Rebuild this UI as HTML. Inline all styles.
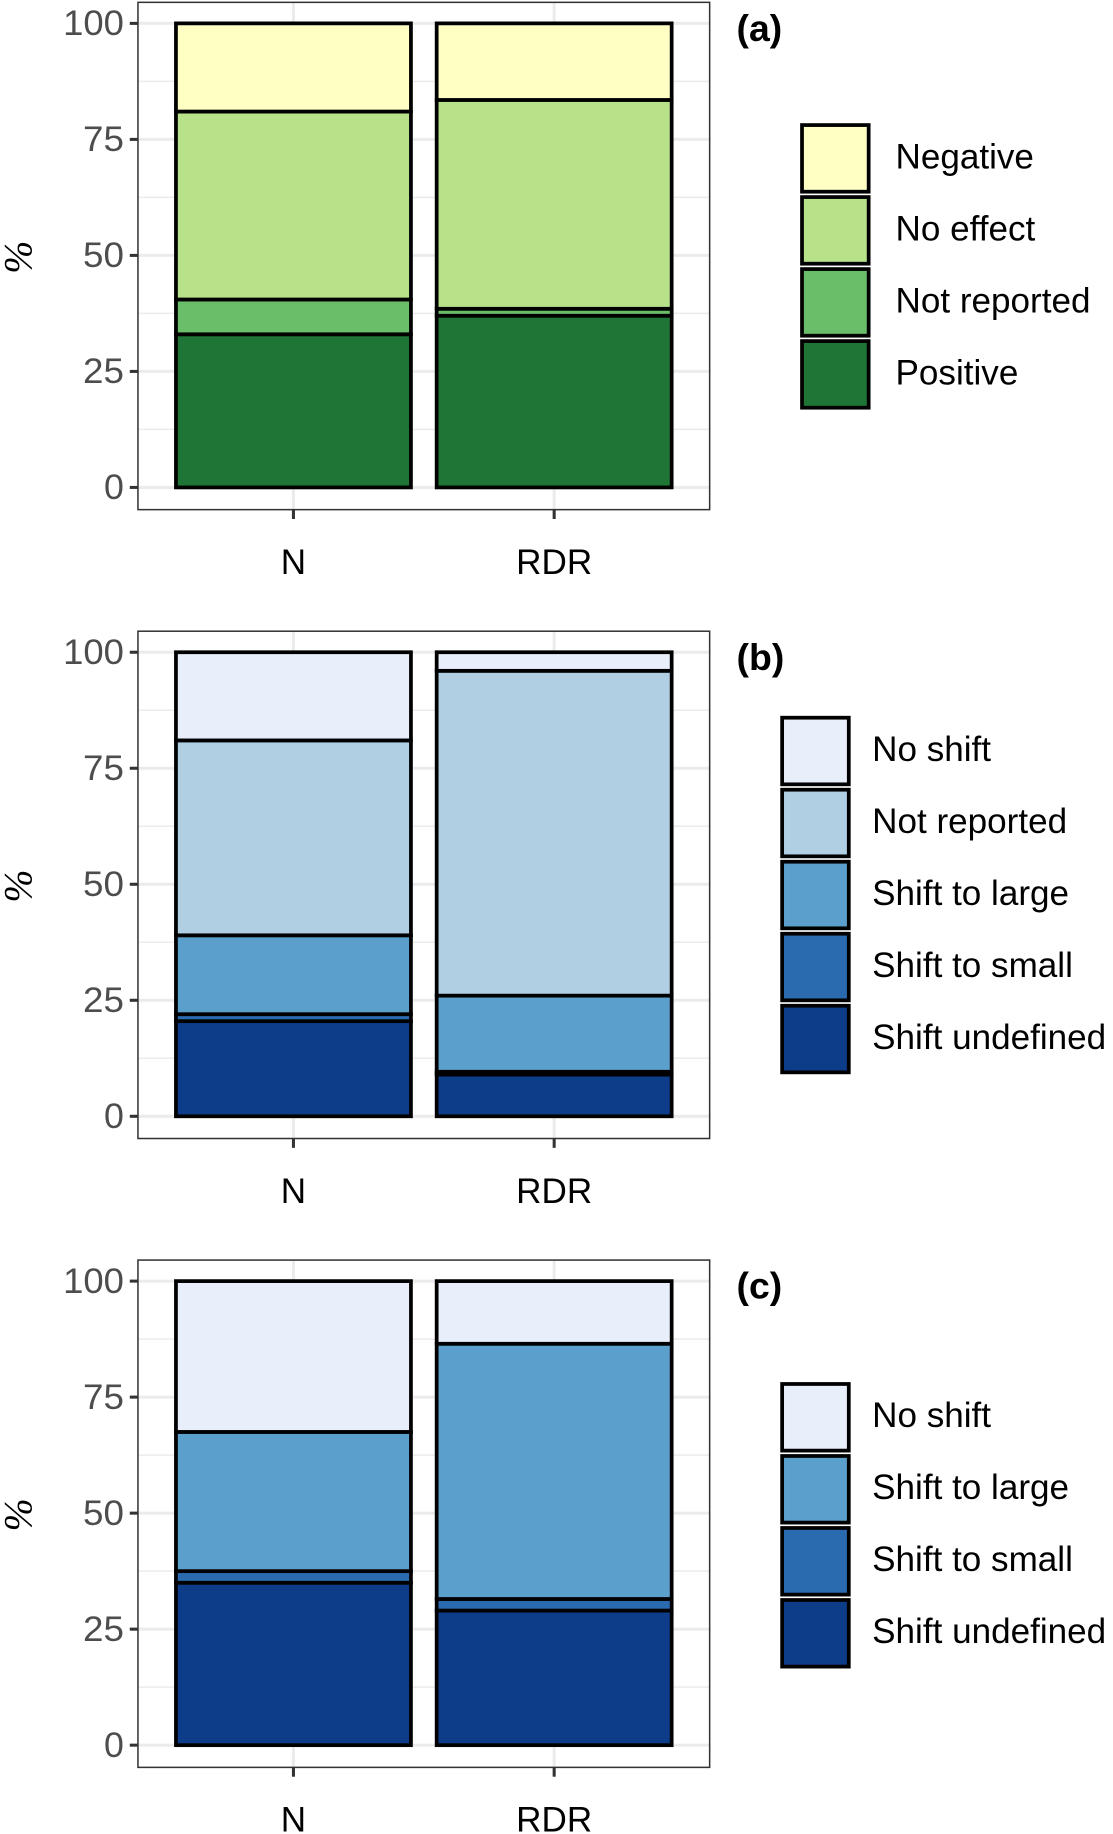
<!DOCTYPE html>
<html><head><meta charset="utf-8"><style>
html,body{margin:0;padding:0;background:#fff;}
svg{display:block;font-family:"Liberation Sans",Arial,sans-serif;}
</style></head><body>
<svg id="fig" width="1113" height="1834" viewBox="0 0 952 1569" preserveAspectRatio="none" xmlns="http://www.w3.org/2000/svg"></svg>
<script>
const categories = ["N", "RDR"];
// panel a (bottom to top stacking order)
const aSeries = ["Positive", "Not reported", "No effect", "Negative"];
const aN = [33, 7.5, 40.5, 19];
const aRDR = [37, 1.5, 45, 16.5];
const aColors = ["#1f7535", "#6abd69", "#b8e289", "#ffffc3"];
const aLegend = ["Negative", "No effect", "Not reported", "Positive"];
// panel b
const bSeries = ["Shift undefined", "Shift to small", "Shift to large", "Not reported", "No shift"];
const bN = [20.5, 1.5, 17, 42, 19];
const bRDR = [9, 0.6, 16.4, 70, 4];
const bColors = ["#0d3c89", "#2a6bb0", "#5b9fcc", "#b0cfe2", "#e8effb"];
const bLegend = ["No shift", "Not reported", "Shift to large", "Shift to small", "Shift undefined"];
// panel c
const cSeries = ["Shift undefined", "Shift to small", "Shift to large", "No shift"];
const cN = [35, 2.5, 30, 32.5];
const cRDR = [29, 2.5, 55, 13.5];
const cColors = ["#0d3c89", "#2a6bb0", "#5b9fcc", "#e8effb"];
const cLegend = ["No shift", "Shift to large", "Shift to small", "Shift undefined"];
const yTicks = [0, 25, 50, 75, 100];

const svg = document.getElementById('fig');
const NS = "http://www.w3.org/2000/svg";
function mk(tag, attrs, parent) {
  const e = document.createElementNS(NS, tag);
  for (const k in attrs) e.setAttribute(k, attrs[k]);
  (parent || svg).appendChild(e);
  return e;
}

function panel(id, top, vals, series, colors, legend, legTop, legX, txtX, label) {
  const g = mk('g', {});
  
  
  const y0 = top + 415, y100 = top + 18;
  const y = v => y0 - (v / 100) * (y0 - y100);
  const left = 118, right = 607;
  const xc = [251, 474];
  const bw = 201;
  for (let v = 12.5; v < 100; v += 25) {
    const gl = mk('line', {x1: left, x2: right, y1: y(v), y2: y(v), stroke: '#ebebeb', 'stroke-width': 1.3}, g);
    
    
  }
  yTicks.forEach(v => {
    const gl = mk('line', {x1: left, x2: right, y1: y(v), y2: y(v), stroke: '#ebebeb', 'stroke-width': 2.6}, g);
    
    
  });
  xc.forEach(x => {
    const gl = mk('line', {x1: x, x2: x, y1: top, y2: top + 434, stroke: '#ebebeb', 'stroke-width': 2.6}, g);
    
    
  });
  vals.forEach((arr, ci) => {
    let cum = 0;
    arr.forEach((v, si) => {
      const r = mk('rect', {x: xc[ci] - bw / 2, y: y(cum + v), width: bw, height: y(cum) - y(cum + v), fill: colors[si], stroke: '#000', 'stroke-width': 3.2}, g);
      
      
      cum += v;
    });
  });
  const b = mk('rect', {x: left, y: top, width: right - left, height: 434, fill: 'none', stroke: '#333', 'stroke-width': 1.3}, g);
  
  
  yTicks.forEach(v => {
    const t = mk('line', {x1: left - 7, x2: left, y1: y(v), y2: y(v), stroke: '#333', 'stroke-width': 2.6}, g);
    
    
    const tx = mk('text', {x: left - 12, y: y(v) + 10, 'text-anchor': 'end', 'font-size': 30, fill: '#4d4d4d', 'textLength': v === 100 ? 52 : (v === 0 ? 17 : 35), 'lengthAdjust': 'spacingAndGlyphs'}, g);
    tx.textContent = v;
    
    
  });
  xc.forEach((x, i) => {
    const t = mk('line', {x1: x, x2: x, y1: top + 434, y2: top + 442, stroke: '#333', 'stroke-width': 2.6}, g);
    
    
    const tx = mk('text', {x: x, y: top + 489, 'text-anchor': 'middle', 'font-size': 30, fill: '#000'}, g);
    tx.textContent = categories[i];
    
    
  });
  const yl = mk('text', {x: 0, y: 0, transform: 'translate(27,' + (top + 218) + ') rotate(-90)', 'text-anchor': 'middle', 'font-size': 34, 'font-family': '"Liberation Serif",serif', 'font-style': 'italic', fill: '#000'}, g);
  yl.textContent = '%';
  
  
  const pl = mk('text', {x: 630, y: top + 33, 'font-size': 32, 'font-weight': 'bold', fill: '#000'}, g);
  pl.textContent = label;
  
  
  legend.forEach((name, i) => {
    const idx = series.indexOf(name);
    const ry = legTop + i * 61.6;
    const r = mk('rect', {x: legX, y: ry, width: 57, height: 57, fill: colors[idx], stroke: '#000', 'stroke-width': 3.2}, g);
    
    
    const t = mk('text', {x: txtX, y: ry + 37, 'font-size': 30, fill: '#000'}, g);
    t.textContent = name;
    
    
  });
}
panel('a', 2, [aN, aRDR], aSeries, aColors, aLegend, 107, 686, 766, '(a)');
panel('b', 540, [bN, bRDR], bSeries, bColors, bLegend, 614, 669, 746, '(b)');
panel('c', 1078, [cN, cRDR], cSeries, cColors, cLegend, 1184, 669, 746, '(c)');
</script>
</body></html>
